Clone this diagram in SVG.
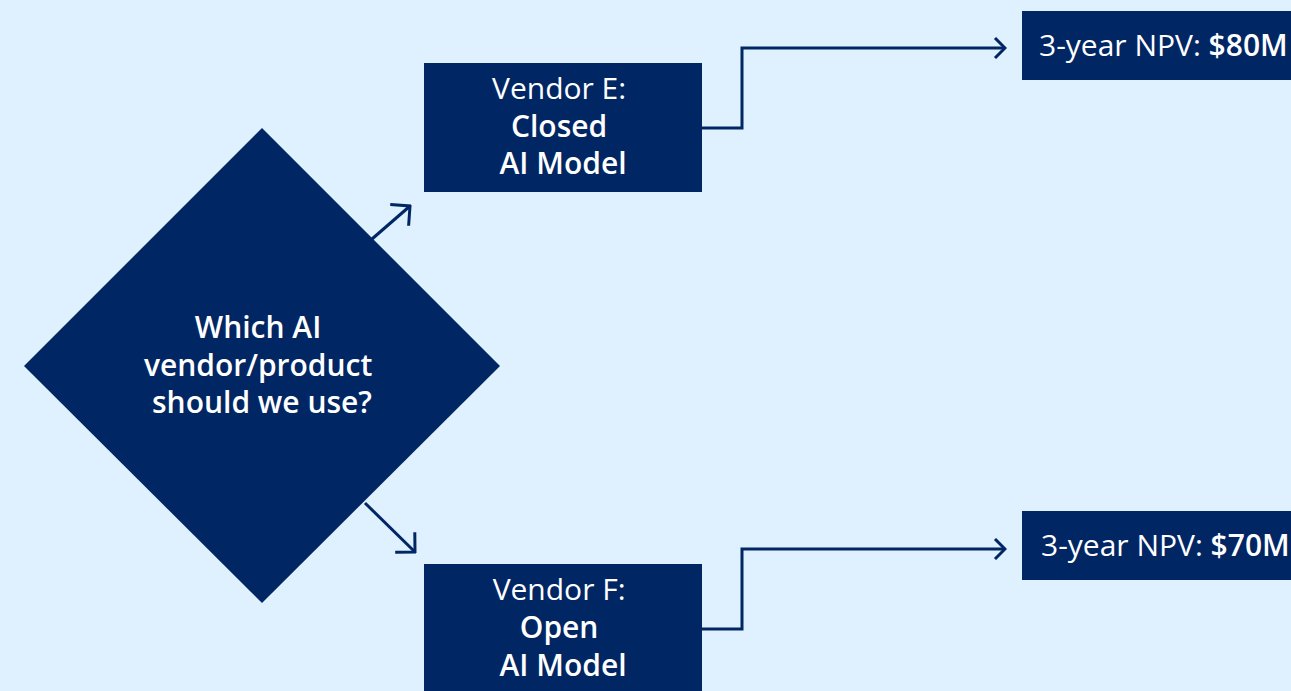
<svg xmlns="http://www.w3.org/2000/svg" width="1291" height="691" viewBox="0 0 1291 691">
  <style>
    .bg { fill: #dff0fe; }
    .shape { fill: #002663; }
    .txt { fill: #ffffff; font-family: "Open Sans", "Noto Sans", sans-serif; text-anchor: middle; font-size: 30px; }
    .reg { font-weight: 400; }
    .bold { font-weight: 600; }
    .link { fill: none; stroke: #002663; stroke-width: 3; stroke-linejoin: miter; }
  </style>
  <defs>
    <marker id="arrow" viewBox="0 0 14 22" refX="12" refY="11" markerWidth="14" markerHeight="22" markerUnits="userSpaceOnUse" orient="auto">
      <path d="M2,1 L12,11 L2,21" fill="none" stroke="#002663" stroke-width="3"/>
    </marker>
    <marker id="arrow-lg" viewBox="0 0 18 32" refX="16" refY="16" markerWidth="18" markerHeight="32" markerUnits="userSpaceOnUse" orient="auto">
      <path d="M2,2 L16,16 L2,30" fill="none" stroke="#002663" stroke-width="3"/>
    </marker>
  </defs>

  <rect class="bg" x="0" y="0" width="1291" height="691"/>

  <g id="connectors">
    <line class="link" x1="372" y1="239" x2="410" y2="206" marker-end="url(#arrow-lg)"/>
    <line class="link" x1="365" y1="503" x2="415" y2="552" marker-end="url(#arrow-lg)"/>
    <polyline class="link" points="702,128 742,128 742,48 1005,48" marker-end="url(#arrow)"/>
    <polyline class="link" points="702,629 742,629 742,549 1005,549" marker-end="url(#arrow)"/>
  </g>

  <g id="decision">
    <polygon class="shape" points="262,128 500,366 262,603 24,366"/>
    <text class="txt bold">
      <tspan x="262" y="338">Which AI</tspan>
      <tspan x="262" y="376">vendor/product</tspan>
      <tspan x="262" y="413">should we use?</tspan>
    </text>
  </g>

  <g id="vendor-e">
    <rect class="shape" x="424" y="63" width="278" height="129"/>
    <text class="txt">
      <tspan class="reg" x="563" y="99">Vendor E:</tspan>
      <tspan class="bold" x="563" y="137">Closed</tspan>
      <tspan class="bold" x="563" y="174">AI Model</tspan>
    </text>
  </g>

  <g id="vendor-f">
    <rect class="shape" x="424" y="564" width="278" height="127"/>
    <text class="txt">
      <tspan class="reg" x="563" y="600">Vendor F:</tspan>
      <tspan class="bold" x="563" y="638">Open</tspan>
      <tspan class="bold" x="563" y="676">AI Model</tspan>
    </text>
  </g>

  <g id="npv-e">
    <rect class="shape" x="1022" y="11" width="269" height="69"/>
    <text class="txt" style="text-anchor:start" x="1039" y="56"><tspan class="reg">3-year NPV: </tspan><tspan class="bold">$80M</tspan></text>
  </g>

  <g id="npv-f">
    <rect class="shape" x="1022" y="511" width="269" height="69"/>
    <text class="txt" style="text-anchor:start" x="1041" y="556"><tspan class="reg">3-year NPV: </tspan><tspan class="bold">$70M</tspan></text>
  </g>
</svg>
